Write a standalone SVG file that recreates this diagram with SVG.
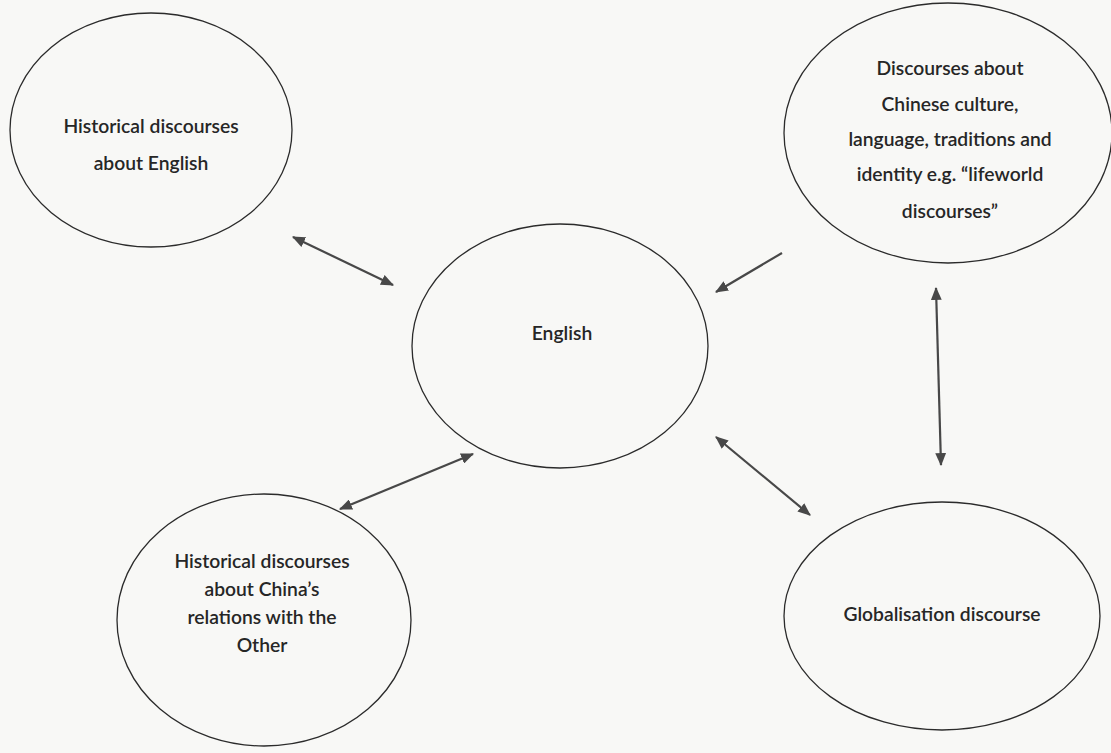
<svg xmlns="http://www.w3.org/2000/svg" width="1111" height="753" viewBox="0 0 1111 753">
<defs>
<style>
.node ellipse{fill:none;stroke:#2b2b2b;stroke-width:1.3}
.node text{font-family:Lato,"Open Sans","Liberation Sans",sans-serif;font-size:19.3px;font-weight:600;fill:#262626;text-anchor:middle;dominant-baseline:central}
.conn line{stroke:#484848;stroke-width:2.2}
</style>
<marker id="ah" viewBox="0 0 12 10" refX="11" refY="5" markerWidth="13" markerHeight="11" markerUnits="userSpaceOnUse" orient="auto-start-reverse">
<path d="M0,0 L12,5 L0,10 Z" fill="#484848"/>
</marker>
</defs>
<rect width="1111" height="753" fill="#f8f8f6"/>
<g id="hist-english" class="node">
<ellipse cx="151" cy="130" rx="141" ry="117"/>
<text x="151" y="125">Historical discourses</text>
<text x="151" y="162">about English</text>
</g>
<g id="english" class="node">
<ellipse cx="560" cy="346" rx="148" ry="122"/>
<text x="562" y="332">English</text>
</g>
<g id="chinese-culture" class="node">
<ellipse cx="948" cy="133" rx="164" ry="130"/>
<text x="950" y="67">Discourses about</text>
<text x="950" y="103">Chinese culture,</text>
<text x="950" y="138">language, traditions and</text>
<text x="950" y="173">identity e.g. “lifeworld</text>
<text x="950" y="210">discourses”</text>
</g>
<g id="hist-china" class="node">
<ellipse cx="264" cy="620" rx="147" ry="126"/>
<text x="262" y="560">Historical discourses</text>
<text x="262" y="588">about China’s</text>
<text x="262" y="616">relations with the</text>
<text x="262" y="644">Other</text>
</g>
<g id="globalisation" class="node">
<ellipse cx="942" cy="616" rx="158" ry="114"/>
<text x="942" y="613">Globalisation discourse</text>
</g>
<g id="connectors" class="conn">
<line x1="293" y1="237" x2="393" y2="285" marker-start="url(#ah)" marker-end="url(#ah)"/>
<line x1="782" y1="253" x2="716" y2="292" marker-end="url(#ah)"/>
<line x1="936" y1="288" x2="941" y2="465" marker-start="url(#ah)" marker-end="url(#ah)"/>
<line x1="340" y1="509" x2="473" y2="454" marker-start="url(#ah)" marker-end="url(#ah)"/>
<line x1="716" y1="437" x2="810" y2="515" marker-start="url(#ah)" marker-end="url(#ah)"/>
</g>
</svg>
